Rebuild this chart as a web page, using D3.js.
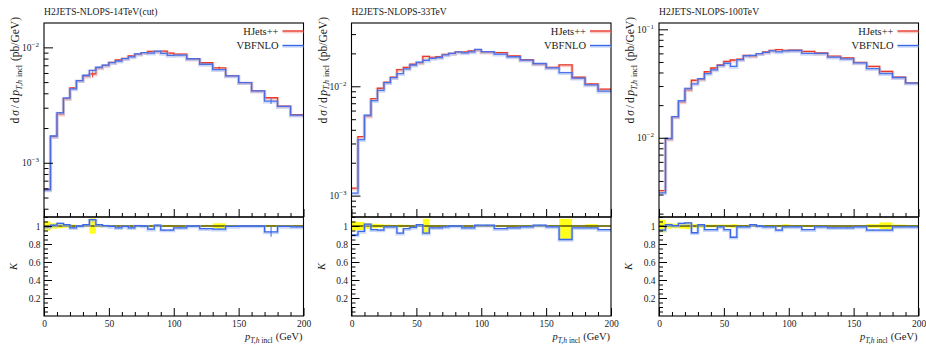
<!DOCTYPE html>
<html>
<head>
<meta charset="utf-8">
<script src="https://cdn.jsdelivr.net/npm/d3@7"></script>
<style>
  body { margin: 0; background: #fff; }
  svg text { font-family: "Liberation Serif", "Times New Roman", serif; fill: #1a1a1a; }
</style>
</head>
<body>
<svg id="chart" width="926" height="345"></svg>
<script>
// Bin edges of the Higgs transverse-momentum histogram (GeV)
const binEdges = [0,5,10,15,20,25,30,35,40,45,50,55,60,65,70,75,80,85,90,95,100,110,120,130,140,150,160,170,180,190,200];

const panelTitles = ["H2JETS-NLOPS-14TeV(cut)", "H2JETS-NLOPS-33TeV", "H2JETS-NLOPS-100TeV"];
const seriesNames = ["HJets++", "VBFNLO"];

// dσ/dpT (pb/GeV), one value per bin
const hjets14  = [0.00059,0.00169,0.00264,0.00359,0.00445,0.00515,0.00565,0.0059,0.00665,0.00697,0.00742,0.00777,0.00802,0.00845,0.00875,0.00899,0.00923,0.00918,0.00929,0.00893,0.00875,0.00797,0.00736,0.00665,0.0057,0.00495,0.00419,0.00366,0.0031,0.00261];
const vbfnlo14 = [0.000584,0.001707,0.002719,0.003644,0.004361,0.00515,0.005735,0.006313,0.00675,0.007005,0.007383,0.007615,0.00798,0.008281,0.008794,0.00899,0.008907,0.009272,0.008872,0.008528,0.008575,0.00797,0.007139,0.006417,0.005672,0.00495,0.00419,0.003422,0.003085,0.002584];
const hjets33  = [0.00117,0.00346,0.00535,0.0077,0.00959,0.0109,0.0121,0.0142,0.0149,0.0159,0.0164,0.0188,0.0184,0.0187,0.0196,0.0200,0.0206,0.0206,0.0211,0.0215,0.0205,0.0203,0.0190,0.0175,0.0160,0.0149,0.0157,0.0121,0.0105,0.0094];
const vbfnlo33 = [0.001053,0.003252,0.005457,0.007392,0.009158,0.010791,0.011979,0.013064,0.014453,0.015662,0.016646,0.017296,0.018032,0.018326,0.019404,0.0200,0.0206,0.020188,0.020678,0.021715,0.020705,0.019691,0.01862,0.017325,0.01616,0.014751,0.013345,0.011858,0.01029,0.009024];
const hjets100  = [0.00326,0.00975,0.0156,0.0214,0.0276,0.0339,0.0346,0.0406,0.044,0.0469,0.0507,0.0521,0.053,0.0576,0.0567,0.0596,0.0618,0.064,0.0649,0.064,0.0644,0.0625,0.0605,0.0565,0.0545,0.0495,0.0455,0.041,0.0363,0.0322];
const vbfnlo100 = [0.003113,0.009896,0.015678,0.022042,0.028566,0.031358,0.035119,0.038976,0.04224,0.046431,0.048672,0.045588,0.05247,0.057024,0.05755,0.0596,0.061182,0.06336,0.06198,0.06336,0.063756,0.06,0.059895,0.05537,0.05341,0.049005,0.043453,0.039155,0.035937,0.031878];

// K = VBFNLO / HJets++ per bin
const kFactor14  = [0.99,1.01,1.03,1.015,0.98,1.0,1.015,1.07,1.015,1.005,0.995,0.98,0.995,0.98,1.005,1.0,0.965,1.01,0.955,0.955,0.98,1.0,0.97,0.965,0.995,1.0,1.0,0.935,0.995,0.99];
const kFactor33  = [0.9,0.94,1.02,0.96,0.955,0.99,0.99,0.92,0.97,0.985,1.015,0.92,0.98,0.98,0.99,1.0,1.0,0.98,0.98,1.01,1.01,0.97,0.98,0.99,1.01,0.99,0.85,0.98,0.98,0.96];
const kFactor100 = [0.955,1.015,1.005,1.03,1.035,0.925,1.015,0.96,0.96,0.99,0.96,0.875,0.99,0.99,1.015,1.0,0.99,0.99,0.955,0.99,0.99,0.96,0.99,0.98,0.98,0.99,0.955,0.955,0.99,0.99];

// Relative uncertainty band of HJets++ in the K panel (symmetric value or [down, up])
const hjetsBand14  = [0.052,0.03,0.025,0.02,0.015,0.01,0.01,0.085,0.015,0.01,0.008,0.008,0.008,0.008,0.01,0.008,0.012,0.008,0.01,0.01,0.008,0.008,0.01,0.03,0.008,0.008,0.008,0.01,0.008,0.008];
const hjetsBand33  = [0.05,0.045,0.03,0.025,0.02,0.015,0.012,0.015,0.012,0.01,0.01,0.08,0.01,0.01,0.008,0.008,0.01,0.008,0.008,0.01,0.008,0.008,0.008,0.008,0.008,0.008,[0.15,0.08],0.008,0.02,0.008];
const hjetsBand100 = [0.07,0.03,0.025,0.03,0.035,0.02,0.02,0.015,0.015,0.015,0.015,0.02,0.012,0.012,0.01,0.01,0.01,0.012,0.01,0.02,0.01,0.01,0.008,0.008,0.008,0.008,0.02,0.04,0.015,0.01];

// Statistical error bars (relative) drawn on the distributions
const hjetsErr14  = [0.02,0.01,0.02,0.01,0.01,0.005,0.005,0.07,0.01,0.005,0.005,0.005,0.005,0.005,0.005,0.005,0.005,0.005,0.005,0.005,0.005,0.005,0.005,0.025,0.005,0.005,0.005,0.005,0.005,0.005];
const hjetsErr33  = Array(30).fill(0.004);
const hjetsErr100 = Array(30).fill(0.004);
const vbfnloErr14  = [0.01,0.006,0.006,0.006,0.006,0.006,0.006,0.006,0.006,0.006,0.006,0.006,0.006,0.006,0.006,0.006,0.006,0.006,0.006,0.006,0.006,0.006,0.006,0.006,0.006,0.006,0.006,0.055,0.006,0.006];
const vbfnloErr33  = Array(30).fill(0.004);
const vbfnloErr100 = Array(30).fill(0.004);

// y ranges of the cross-section panels
const yDomains = [[3.39e-4, 0.01626], [6.38e-4, 0.0379], [1.862e-3, 0.1143]];
const yDecadeLabels = [[1e-3, 1e-2], [1e-3, 1e-2], [1e-2, 1e-1]];
const xMajorTicks = [0, 50, 100, 150, 200];
const kMajorTicks = [0.2, 0.4, 0.6, 0.8, 1];

const panels = [
  { title: panelTitles[0], hj: hjets14,  vb: vbfnlo14,  k: kFactor14,  band: hjetsBand14,  hjErr: hjetsErr14,  vbErr: vbfnloErr14,  yDom: yDomains[0], dec: yDecadeLabels[0] },
  { title: panelTitles[1], hj: hjets33,  vb: vbfnlo33,  k: kFactor33,  band: hjetsBand33,  hjErr: hjetsErr33,  vbErr: vbfnloErr33,  yDom: yDomains[1], dec: yDecadeLabels[1] },
  { title: panelTitles[2], hj: hjets100, vb: vbfnlo100, k: kFactor100, band: hjetsBand100, hjErr: hjetsErr100, vbErr: vbfnloErr100, yDom: yDomains[2], dec: yDecadeLabels[2] }
];

const RED = "#e8392a", RED_PALE = "#f3a79d";
const BLUE = "#3b68e8", BLUE_PALE = "#a5bcf3";
const YELLOW = "#ffff1a";

const frame = { top: 23, mid: 217, bot: 316, w: 259.5 };
const lefts = [44, 351.5, 659];

const svg = d3.select("#chart");
const errPair = e => Array.isArray(e) ? e : [e, e];

panels.forEach((p, pi) => {
  const g = svg.append("g").attr("transform", `translate(${lefts[pi]},0)`);
  const x = d3.scaleLinear().domain([0, 200]).range([0, frame.w]);
  const y = d3.scaleLog().domain(p.yDom).range([frame.mid, frame.top]);
  const r = d3.scaleLinear().domain([0, 1.1]).range([frame.bot, frame.mid]);

  const clipMain = `clipMain${pi}`, clipRatio = `clipRatio${pi}`;
  const defs = g.append("defs");
  defs.append("clipPath").attr("id", clipMain).append("rect")
    .attr("x", 0).attr("y", frame.top).attr("width", frame.w).attr("height", frame.mid - frame.top);
  defs.append("clipPath").attr("id", clipRatio).append("rect")
    .attr("x", 0).attr("y", frame.mid).attr("width", frame.w).attr("height", frame.bot - frame.mid);

  // step path through bins
  const stepPts = vals => vals.map((v, i) => [binEdges[i], v]).concat([[binEdges[vals.length], vals[vals.length - 1]]]);
  const mainLine = d3.line().x(d => x(d[0])).y(d => y(d[1])).curve(d3.curveStepAfter);
  const ratioLine = d3.line().x(d => x(d[0])).y(d => r(d[1])).curve(d3.curveStepAfter);
  const centers = p.hj.map((_, i) => (binEdges[i] + binEdges[i + 1]) / 2);

  // ---- main panel curves
  const gm = g.append("g").attr("clip-path", `url(#${clipMain})`);
  [[p.hj, p.hjErr, RED, RED_PALE], [p.vb, p.vbErr, BLUE, BLUE_PALE]].forEach(([vals, errs, col, pale], si) => {
    gm.append("path").attr("d", mainLine(stepPts(vals)))
      .attr("fill", "none").attr("stroke", pale).attr("stroke-width", 3.2).attr("opacity", 0.55)
      .attr("transform", "translate(0,0.8)");
    gm.append("g").selectAll("line").data(vals).join("line")
      .attr("x1", (d, i) => x(centers[i])).attr("x2", (d, i) => x(centers[i]))
      .attr("y1", (d, i) => y(d * (1 - errs[i])))
      .attr("y2", (d, i) => y(d * (1 + errs[i])))
      .attr("stroke", col).attr("stroke-width", 1);
    gm.append("path").attr("d", mainLine(stepPts(vals)))
      .attr("fill", "none").attr("stroke", col).attr("stroke-width", 1.3)
      .attr("opacity", si === 1 ? 0.88 : 1);
  });

  // ---- ratio panel
  const gr = g.append("g").attr("clip-path", `url(#${clipRatio})`);
  gr.append("g").selectAll("rect").data(p.band).join("rect")
    .attr("x", (d, i) => x(binEdges[i])).attr("width", (d, i) => x(binEdges[i + 1]) - x(binEdges[i]))
    .attr("y", d => r(1 + errPair(d)[1])).attr("height", d => r(1 - errPair(d)[0]) - r(1 + errPair(d)[1]))
    .attr("fill", YELLOW);
  gr.append("line").attr("x1", 0).attr("x2", frame.w).attr("y1", r(1)).attr("y2", r(1))
    .attr("stroke", "#000").attr("stroke-width", 1.2);
  gr.append("path").attr("d", ratioLine(stepPts(p.k)))
    .attr("fill", "none").attr("stroke", BLUE_PALE).attr("stroke-width", 3).attr("opacity", 0.6)
    .attr("transform", "translate(0,0.8)");
  gr.append("g").selectAll("line").data(p.k).join("line")
    .attr("x1", (d, i) => x(centers[i])).attr("x2", (d, i) => x(centers[i]))
    .attr("y1", (d, i) => r(d - p.vbErr[i])).attr("y2", (d, i) => r(d + p.vbErr[i]))
    .attr("stroke", BLUE).attr("stroke-width", 1);
  gr.append("path").attr("d", ratioLine(stepPts(p.k)))
    .attr("fill", "none").attr("stroke", BLUE).attr("stroke-width", 1.3);

  // ---- axes
  const styleAxis = sel => {
    sel.select(".domain").remove();
    sel.selectAll(".tick line").attr("stroke", "#000").attr("stroke-width", 1);
    sel.selectAll("text").attr("fill", "#1a1a1a").attr("font-size", "9.5px")
      .attr("font-family", "Liberation Serif, serif");
  };
  const minorX = d3.range(0, 201, 10).filter(v => v % 50 !== 0);

  // main: x ticks on bottom edge (inward, no labels)
  g.append("g").attr("transform", `translate(0,${frame.mid})`)
    .call(d3.axisBottom(x).tickValues(xMajorTicks).tickSize(-8).tickFormat("")).call(styleAxis);
  g.append("g").attr("transform", `translate(0,${frame.mid})`)
    .call(d3.axisBottom(x).tickValues(minorX).tickSize(-4).tickFormat("")).call(styleAxis);

  // main: log y ticks
  const minorY = y.ticks(20).filter(v => !p.dec.some(d => Math.abs(d - v) / d < 1e-6));
  g.append("g").call(d3.axisLeft(y).tickValues(minorY).tickSize(-4.5).tickFormat("")).call(styleAxis);
  const yMaj = g.append("g").call(d3.axisLeft(y).tickValues(p.dec).tickSize(-9).tickPadding(5)).call(styleAxis);
  yMaj.selectAll(".tick text").each(function(d) {
    const t = d3.select(this).text(null).attr("font-size", "9.5px");
    t.append("tspan").text("10");
    t.append("tspan").attr("dy", "-4").attr("font-size", "7px").text("\u2212" + Math.round(-Math.log10(d)));
  });

  // ratio: x axis with labels
  g.append("g").attr("transform", `translate(0,${frame.bot})`)
    .call(d3.axisBottom(x).tickValues(xMajorTicks).tickSize(-8).tickPadding(4.5).tickFormat(d3.format("d"))).call(styleAxis);
  g.append("g").attr("transform", `translate(0,${frame.bot})`)
    .call(d3.axisBottom(x).tickValues(minorX).tickSize(-4).tickFormat("")).call(styleAxis);

  // ratio: y axis
  g.append("g").call(d3.axisLeft(r).tickValues(d3.range(0, 1.101, 0.05).filter(v => Math.abs((v * 5) - Math.round(v * 5)) > 1e-6)).tickSize(-4).tickFormat("")).call(styleAxis);
  g.append("g").call(d3.axisLeft(r).tickValues(kMajorTicks).tickSize(-8).tickPadding(3.5)
    .tickFormat(d => d === 1 ? "1" : d3.format(".1f")(d))).call(styleAxis);

  // frames
  g.append("rect").attr("x", 0).attr("y", frame.top).attr("width", frame.w).attr("height", frame.mid - frame.top)
    .attr("fill", "none").attr("stroke", "#000").attr("stroke-width", 1.1);
  g.append("rect").attr("x", 0).attr("y", frame.mid).attr("width", frame.w).attr("height", frame.bot - frame.mid)
    .attr("fill", "none").attr("stroke", "#000").attr("stroke-width", 1.1);

  // title
  g.append("text").attr("x", 0).attr("y", 14.5).attr("font-size", "9.6px").text(p.title);

  // legend
  [[seriesNames[0], RED, RED_PALE, 31], [seriesNames[1], BLUE, BLUE_PALE, 45.5]].forEach(([name, col, pale, ly]) => {
    g.append("text").attr("x", frame.w - 25).attr("y", ly + 3.5).attr("text-anchor", "end")
      .attr("font-size", "10.5px").text(name);
    g.append("line").attr("x1", frame.w - 21).attr("x2", frame.w).attr("y1", ly + 0.8).attr("y2", ly + 0.8)
      .attr("stroke", pale).attr("stroke-width", 3).attr("opacity", 0.55);
    g.append("line").attr("x1", frame.w - 21).attr("x2", frame.w).attr("y1", ly).attr("y2", ly)
      .attr("stroke", col).attr("stroke-width", 1.3);
  });

  // y-axis title of the cross-section panel
  const yt = g.append("text").attr("transform", `translate(-25,17) rotate(-90)`)
    .attr("text-anchor", "end").attr("font-size", "11.5px");
  yt.append("tspan").text("d");
  yt.append("tspan").attr("font-style", "italic").attr("dx", "2").text("σ");
  yt.append("tspan").attr("dx", "2").text("/");
  yt.append("tspan").attr("dx", "2").text("d");
  yt.append("tspan").attr("font-style", "italic").attr("dx", "1.5").text("p");
  yt.append("tspan").attr("font-style", "italic").attr("font-size", "8px").attr("dy", "2.8").text("T,h");
  yt.append("tspan").attr("font-size", "8px").attr("dx", "3").text("incl");
  yt.append("tspan").attr("dy", "-2.8").attr("dx", "4").text("(pb/GeV)");

  // y-axis title of the ratio panel
  g.append("text").attr("transform", `translate(-27,${(frame.mid + frame.bot) / 2}) rotate(-90)`)
    .attr("text-anchor", "middle").attr("font-size", "10.5px").attr("font-style", "italic").text("K");

  // x-axis title
  const xt = g.append("text").attr("x", frame.w - 1).attr("y", 340).attr("text-anchor", "end").attr("font-size", "10.5px");
  xt.append("tspan").attr("font-style", "italic").text("p");
  xt.append("tspan").attr("font-style", "italic").attr("font-size", "7.5px").attr("dy", "2.5").text("T,h");
  xt.append("tspan").attr("font-size", "7.5px").attr("dx", "2").text("incl");
  xt.append("tspan").attr("dy", "-2.5").attr("dx", "3").text("(GeV)");
});
</script>
</body>
</html>
